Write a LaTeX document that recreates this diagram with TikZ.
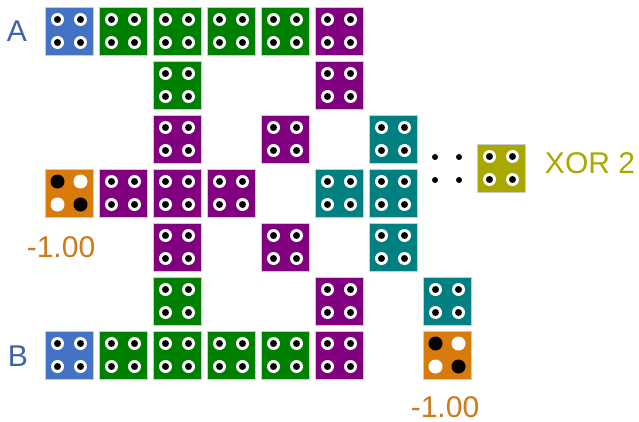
\documentclass[tikz,border=0pt]{standalone}
\usepackage{fontspec}
\setmainfont{Liberation Sans}
\usepackage{tikz}
\usetikzlibrary{positioning}
\definecolor{TileBlue}{HTML}{4472C4}
\definecolor{TileGreen}{HTML}{008000}
\definecolor{TilePurple}{HTML}{800080}
\definecolor{TileTeal}{HTML}{008080}
\definecolor{TileOrange}{HTML}{D97B0C}
\definecolor{TileOlive}{HTML}{A8A800}
\definecolor{LabelBlue}{HTML}{3D62A8}
\definecolor{LabelOrange}{HTML}{CC7A1A}
\newcommand{\bigfont}{\fontsize{30}{36}\selectfont}
\tikzset{
  tile/.style={fill=#1, draw=black!20, line width=0.5pt, minimum size=48pt, inner sep=0pt,
    path picture={
      \foreach \dx in {-11.5pt,11.5pt}{\foreach \dy in {-11.5pt,11.5pt}{
        \fill[white] ([shift={(\dx,\dy)}]path picture bounding box.center) circle[radius=6.5pt];
        \fill[black] ([shift={(\dx,\dy)}]path picture bounding box.center) circle[radius=3.5pt];
      }}
    }},
  checker/.style={fill=TileOrange, draw=black!20, line width=0.5pt, minimum size=48pt, inner sep=0pt,
    path picture={
      \foreach \dx/\dy/\hole in {-11.5pt/11.5pt/black, 11.5pt/-11.5pt/black,
                                  11.5pt/11.5pt/white, -11.5pt/-11.5pt/white}{
        \fill[\hole] ([shift={(\dx,\dy)}]path picture bounding box.center) circle[radius=7pt];
      }
    }},
  bigtext/.style={font=\bigfont, inner sep=0pt}
}
\begin{document}
\begin{tikzpicture}[x=1pt, y=-1pt]
\useasboundingbox (0,0) rectangle (639,422);

% ── Tiles ─────────────────────────────────────────────────────────────────────
\foreach \c/\r/\col in {0/0/TileBlue, 1/0/TileGreen, 2/0/TileGreen, 3/0/TileGreen, 4/0/TileGreen, 5/0/TilePurple,
                        2/1/TileGreen, 5/1/TilePurple,
                        2/2/TilePurple, 4/2/TilePurple, 6/2/TileTeal,
                        1/3/TilePurple, 2/3/TilePurple, 3/3/TilePurple, 5/3/TileTeal, 6/3/TileTeal,
                        2/4/TilePurple, 4/4/TilePurple, 6/4/TileTeal,
                        2/5/TileGreen, 5/5/TilePurple, 7/5/TileTeal,
                        0/6/TileBlue, 1/6/TileGreen, 2/6/TileGreen, 3/6/TileGreen, 4/6/TileGreen, 5/6/TilePurple}{
  \node[tile=\col] (t-\c-\r) at ({69+54*\c}, {31+54*\r}) {};
}

% ── Weights ───────────────────────────────────────────────────────────────────
\node[checker] (wA) at (69, 193) {};
\node[checker] (wB) at (447, 355) {};
\node[bigtext, text=LabelOrange] (wA-val) at (61, 247) {-1.00};
\node[bigtext, text=LabelOrange] (wB-val) at (445, 407) {-1.00};

% ── Inputs ────────────────────────────────────────────────────────────────────
\node[bigtext, text=LabelBlue] (inA) at (17, 31) {A};
\node[bigtext, text=LabelBlue] (inB) at (18, 356) {B};

% ── Output ────────────────────────────────────────────────────────────────────
\foreach \px in {435, 459}{
  \foreach \py in {157, 180}{
    \fill (\px, \py) circle[radius=3pt];
  }
}
\node[tile=TileOlive] (xor) at (501, 168) {};
\node[bigtext, text=TileOlive] (xor-lbl) at (590, 163) {XOR 2};

\end{tikzpicture}
\end{document}
